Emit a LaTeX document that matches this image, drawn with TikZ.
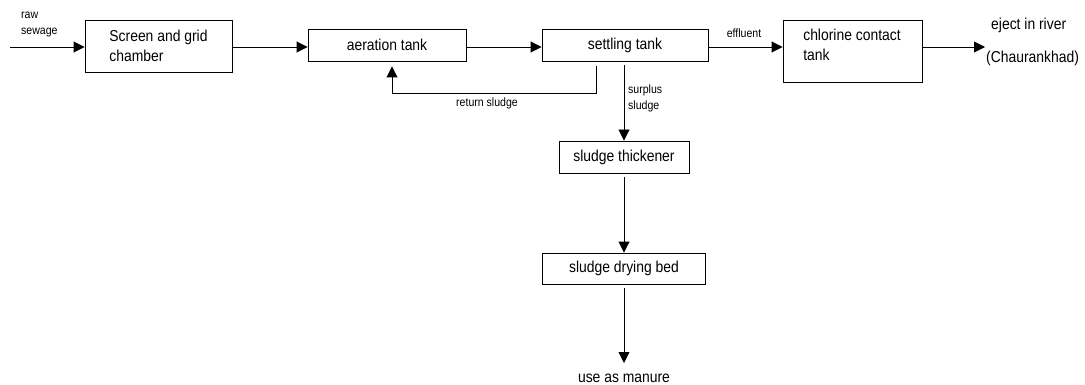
\documentclass[tikz,border=0pt]{standalone}
\usepackage{fontspec}
\setmainfont{Liberation Sans}[FakeStretch=0.88]
\usetikzlibrary{arrows.meta}
\begin{document}
\begin{tikzpicture}[x=1pt,y=-1pt,
  box/.style={draw,line width=0.9pt,inner sep=0pt,font=\fontsize{15.8}{20}\selectfont,align=left},
  flow/.style={line width=0.9pt,-{Triangle[length=11pt,width=11pt]}},
  small/.style={font=\fontsize{12}{16}\selectfont,inner sep=0pt},
  big/.style={font=\fontsize{15.8}{20}\selectfont,inner sep=0pt}]
\useasboundingbox (0,0) rectangle (1085,385);

% process units
\node[box,minimum width=147pt,minimum height=52pt] (screen) at (158.5,46) {Screen and grid\\chamber};
\node[box,minimum width=158pt,minimum height=32pt] (aer) at (387,45) {aeration tank};
\node[box,minimum width=166pt,minimum height=32pt] (settle) at (625,45) {settling tank};
\node[box,minimum width=139pt,minimum height=62pt] (chlor) at (852.5,51) {};
\node[big,align=left] (chlortext) at (852,45) {chlorine contact\\tank};
\node[box,minimum width=130pt,minimum height=32pt] (thick) at (624,157) {sludge thickener};
\node[box,minimum width=163pt,minimum height=31pt] (dry) at (624,268.5) {sludge drying bed};

% free ends of the flow lines
\coordinate (rawin) at (10,47);
\coordinate (out) at (985,47);
\coordinate (manure) at (624,363);
\coordinate (retdown) at (596,93);
\coordinate (retleft) at (392,93);

% main treatment line
\draw[flow] (rawin) -- (rawin -| screen.west);
\draw[flow] (screen.east |- rawin) -- (aer.west |- rawin);
\draw[flow] (aer.east |- rawin) -- (settle.west |- rawin);
\draw[flow] (settle.east |- rawin) -- (chlor.west |- rawin);
\draw[flow] (chlor.east |- out) -- (out);

% sludge recirculation and treatment
\draw[flow,shorten <=5pt,shorten >=5pt] (settle.south -| retdown) -- (retdown) -- (retleft) -- (retleft |- aer.south);
\draw[flow,shorten <=4pt] (settle.south -| thick.north) -- (thick.north);
\draw[flow,shorten <=4pt] (thick.south) -- (dry.north);
\draw[flow,shorten <=4pt] (dry.south) -- (manure);

% labels
\node[small,anchor=west] (rawlbl) at (21,15) {raw};
\node[small,anchor=west] (sewlbl) at (21,33) {sewage};
\node[small] (efflbl) at (744,33) {effluent};
\node[small] (retlbl) at (487,103) {return sludge};
\node[small,align=left,anchor=west] (surlbl) at (628,98) {surplus\\sludge};
\node[big,anchor=west] (ejectlbl) at (991,25) {eject in river};
\node[big,anchor=west] (riverlbl) at (986,58) {(Chaurankhad)};
\node[big] (manurelbl) at (624,378) {use as manure};
\end{tikzpicture}
\end{document}
